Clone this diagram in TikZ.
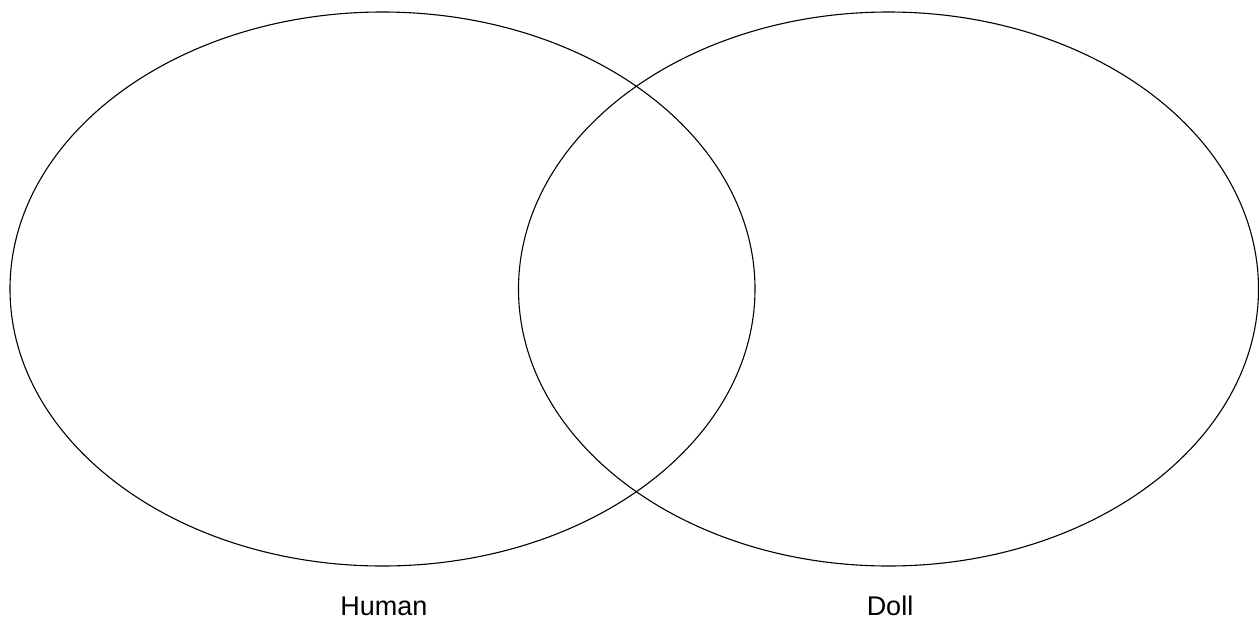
\documentclass[tikz,border=0pt]{standalone}
\usepackage{fontspec}
\setmainfont{Liberation Sans}
\usetikzlibrary{positioning}

\begin{document}
\begin{tikzpicture}[
    x=1pt,
    y=-1pt,
    font=\fontsize{27}{32}\selectfont,
    every node/.style={align=center, inner sep=0pt},
    setline/.style={line width=1.1pt, draw=black}
]

\useasboundingbox (0,0) rectangle (1259,619);

% =================================================
% MENGEN
% =================================================

% Human
\draw[
    setline
] (382.5,289) ellipse [x radius=372.5pt, y radius=277pt];

% Doll
\draw[
    setline
] (888.5,289) ellipse [x radius=370pt, y radius=277pt];

% =================================================
% BESCHRIFTUNG
% =================================================

\node[
    anchor=base
] (human) at (384,615)
{Human};

\node[
    anchor=base
] (doll) at (890,615)
{Doll};

\end{tikzpicture}
\end{document}
